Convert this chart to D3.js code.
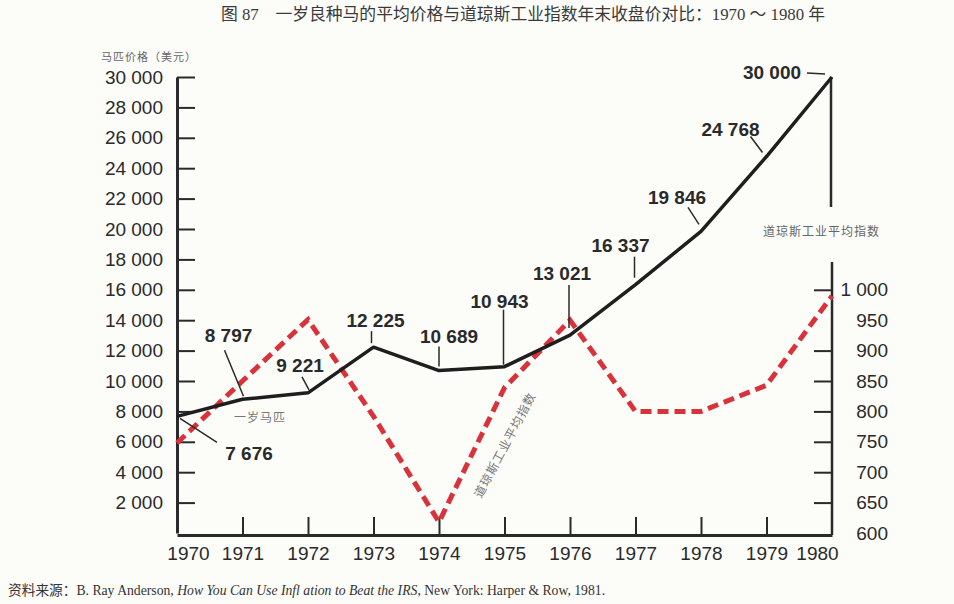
<!DOCTYPE html>
<html>
<head>
<meta charset="utf-8">
<script src="https://cdn.jsdelivr.net/npm/d3@7"></script>
<style>
  body { margin: 0; background: #fcfcf9; }
  svg { display: block; }
</style>
</head>
<body>
<div class="canvas"></div>
<script>
// data
const years = [1970, 1971, 1972, 1973, 1974, 1975, 1976, 1977, 1978, 1979, 1980];
const horsePrice = [7676, 8797, 9221, 12225, 10689, 10943, 13021, 16337, 19846, 24768, 30000];
const horseLabels = ['7 676', '8 797', '9 221', '12 225', '10 689', '10 943', '13 021', '16 337', '19 846', '24 768', '30 000'];
const djia = [748, 850, 951, 792, 618, 839, 950, 800, 800, 843, 990];
const leftTicks = [2000, 4000, 6000, 8000, 10000, 12000, 14000, 16000, 18000, 20000, 22000, 24000, 26000, 28000, 30000];
const rightTicks = [600, 650, 700, 750, 800, 850, 900, 950, 1000];

const fmt = d => d3.format(',')(d).replace(/,/g, ' ');

const W = 954, H = 604;
const svg = d3.select('.canvas').append('svg')
  .attr('width', W)
  .attr('height', H);

const x = d3.scaleLinear().domain([1970, 1980]).range([177, 832]);
const y = d3.scaleLinear().domain([0, 30000]).range([533, 77]);
const yR = d3.scaleLinear().domain([600, 1000]).range([533, y(16000)]);

const numFont = '"Liberation Sans", Arial, Helvetica, sans-serif';
const cjk = '"Noto Sans CJK SC", sans-serif';

// title
svg.append('text')
  .attr('x', 523).attr('y', 20)
  .attr('text-anchor', 'middle')
  .attr('font-family', '"Liberation Serif", "Noto Sans CJK SC", serif')
  .attr('font-size', 16.8)
  .attr('fill', '#3a3a3a')
  .text('图 87　一岁良种马的平均价格与道琼斯工业指数年末收盘价对比：1970 ～ 1980 年');

// axis titles
svg.append('text')
  .attr('x', 101).attr('y', 61)
  .attr('font-family', cjk).attr('font-size', 11)
  .attr('letter-spacing', 1)
  .attr('fill', '#666')
  .text('马匹价格（美元）');

svg.append('text')
  .attr('x', 763).attr('y', 236)
  .attr('font-family', cjk).attr('font-size', 12)
  .attr('letter-spacing', 1)
  .attr('fill', '#666')
  .text('道琼斯工业平均指数');

// left axis
const yAxisGroup = svg.append('g').attr('transform', 'translate(177,0)');
yAxisGroup.call(d3.axisLeft(y).tickValues(leftTicks).tickSizeInner(-18).tickSizeOuter(0).tickPadding(14).tickFormat(fmt));

// bottom axis
const xAxisGroup = svg.append('g').attr('transform', 'translate(0,535)');
xAxisGroup.call(d3.axisBottom(x).tickValues(years).tickSizeInner(-18).tickSizeOuter(0).tickPadding(12).tickFormat(d3.format('d')));
xAxisGroup.selectAll('.tick')
  .filter(d => d === 1970 || d === 1980)
  .select('line').remove();
xAxisGroup.selectAll('.tick text')
  .attr('dx', d => d === 1970 ? 11 : d === 1980 ? -15 : 0);

// right axis
const rAxisGroup = svg.append('g').attr('transform', 'translate(832,0)');
rAxisGroup.call(d3.axisRight(yR).tickValues(rightTicks).tickSizeInner(-18).tickSizeOuter(0).tickFormat(fmt));
rAxisGroup.select('.domain').remove();
rAxisGroup.selectAll('.tick')
  .filter(d => d === 600 || d === 950)
  .select('line').remove();
rAxisGroup.selectAll('.tick text')
  .attr('x', 56)
  .attr('text-anchor', 'end');

[yAxisGroup, xAxisGroup, rAxisGroup].forEach(g => {
  g.selectAll('text')
    .attr('font-family', numFont)
    .attr('font-size', 19)
    .attr('fill', '#2a2a2a');
  g.selectAll('.tick line').attr('stroke', '#2a2a2a').attr('stroke-width', 2);
  g.select('.domain').attr('stroke', '#2a2a2a').attr('stroke-width', 3);
});

// right axis line, broken for its title
svg.append('line')
  .attr('x1', 832).attr('x2', 832)
  .attr('y1', 262).attr('y2', 535)
  .attr('stroke', '#2a2a2a').attr('stroke-width', 2.5);
svg.append('line')
  .attr('x1', 831).attr('x2', 831)
  .attr('y1', y(30000)).attr('y2', 207)
  .attr('stroke', '#2a2a2a').attr('stroke-width', 2.5);

// lines
const djiaLine = d3.line()
  .x((d, i) => x(years[i]))
  .y(d => yR(d));
const horseLine = d3.line()
  .x((d, i) => x(years[i]))
  .y(d => y(d));

svg.append('path')
  .datum(djia)
  .attr('d', djiaLine)
  .attr('fill', 'none')
  .attr('stroke', '#d8333b')
  .attr('stroke-width', 5)
  .attr('stroke-dasharray', '11,6');

svg.append('path')
  .datum(horsePrice)
  .attr('d', horseLine)
  .attr('fill', 'none')
  .attr('stroke', '#1e1e1e')
  .attr('stroke-width', 3.5)
  .attr('stroke-linejoin', 'round');

// value labels with leader lines (offsets from each point)
const labelOffsets = [
  { tx: 72, ty: 44, l: [3, 2, 40, 26] },
  { tx: -14, ty: -57, l: [1, -3, -18, -49] },
  { tx: -8, ty: -21, l: [1, -3, -6, -16] },
  { tx: 2, ty: -20, l: [-2, -4, -2, -16] },
  { tx: 10, ty: -28, l: [0, -4, 0, -24] },
  { tx: -5, ty: -59, l: [-1, -2, -1, -57] },
  { tx: -8, ty: -55, l: [-1, -7, -1, -50] },
  { tx: -15, ty: -33, l: [-1, -7, -1, -28] },
  { tx: -24, ty: -27, l: [-2, -7, -13, -24] },
  { tx: -36, ty: -21, l: [-4, -4, -16, -20] },
  { tx: -60, ty: 2, l: [-7, -3, -25, -4] }
];

const labels = svg.append('g').selectAll('g')
  .data(horsePrice)
  .enter().append('g')
  .attr('transform', (d, i) => `translate(${x(years[i])},${y(d)})`);

labels.append('line')
  .attr('x1', (d, i) => labelOffsets[i].l[0])
  .attr('y1', (d, i) => labelOffsets[i].l[1])
  .attr('x2', (d, i) => labelOffsets[i].l[2])
  .attr('y2', (d, i) => labelOffsets[i].l[3])
  .attr('stroke', '#2a2a2a')
  .attr('stroke-width', 1.5);

labels.append('text')
  .attr('x', (d, i) => labelOffsets[i].tx)
  .attr('y', (d, i) => labelOffsets[i].ty)
  .attr('text-anchor', 'middle')
  .attr('font-family', numFont)
  .attr('font-size', 19)
  .attr('font-weight', 'bold')
  .attr('fill', '#2a2a2a')
  .text((d, i) => horseLabels[i]);

// series names
svg.append('text')
  .attr('x', 260).attr('y', 422)
  .attr('text-anchor', 'middle')
  .attr('font-family', cjk).attr('font-size', 12)
  .attr('letter-spacing', 1)
  .attr('fill', '#777')
  .text('一岁马匹');

svg.append('text')
  .attr('transform', 'translate(505,445) rotate(-62)')
  .attr('text-anchor', 'middle')
  .attr('dy', '0.35em')
  .attr('font-family', cjk).attr('font-size', 12)
  .attr('letter-spacing', 1)
  .attr('fill', '#777')
  .text('道琼斯工业平均指数');

// source
const src = svg.append('text')
  .attr('x', 8).attr('y', 595)
  .attr('font-family', '"Liberation Serif", "Noto Sans CJK SC", serif')
  .attr('font-size', 13.7)
  .attr('fill', '#333');
src.append('tspan').text('资料来源：B. Ray Anderson, ');
src.append('tspan').attr('font-style', 'italic').text('How You Can Use Infl ation to Beat the IRS');
src.append('tspan').text(', New York: Harper & Row, 1981.');
</script>
</body>
</html>
